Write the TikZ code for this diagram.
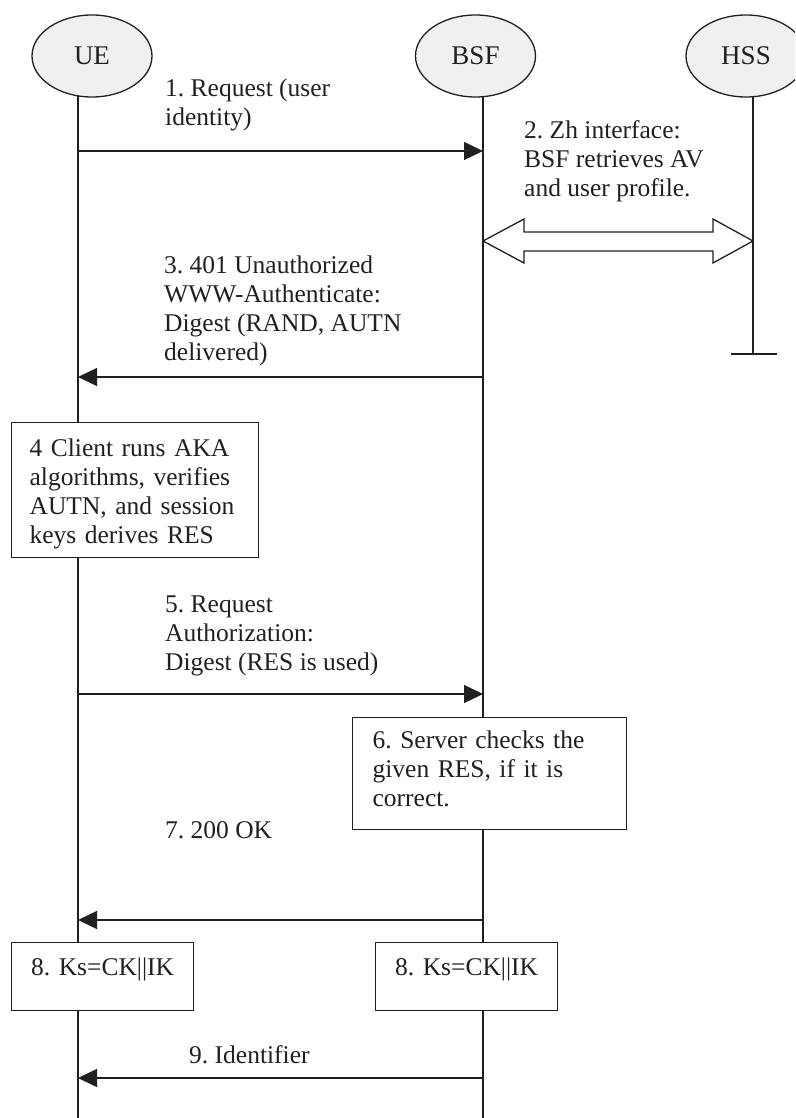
\documentclass[tikz,border=0pt]{standalone}
\usepackage{fontspec}
\setmainfont{Liberation Serif}
\usetikzlibrary{arrows.meta,shapes.geometric,calc}
\definecolor{ink}{RGB}{35,31,32}
\definecolor{actorfill}{RGB}{240,241,239}
\newcommand\myTopRule[1]{\rule{0pt}{#1}}
\newcommand\myBotRule[1]{\rule[-#1]{0pt}{#1}}
\frenchspacing
\begin{document}
\begin{tikzpicture}[x=1pt,y=-1pt,
  every node/.style={font=\fontsize{25.5}{29}\selectfont\frenchspacing, text=ink},
  actor/.style={ellipse, draw=ink, fill=actorfill, line width=1.3pt, minimum width=120pt, minimum height=82pt, inner sep=0pt, font=\fontsize{27}{30}\selectfont},
  life/.style={draw=ink, line width=1.3pt},
  msg/.style={draw=ink, line width=1.4pt, -{Triangle[length=19pt,width=18pt]}},
  lbl/.style={anchor=north west, inner sep=0pt, align=left},
  stepbox/.style={draw=ink, fill=white, line width=1.3pt, anchor=north west, inner ysep=0pt}
]
\useasboundingbox (0,0) rectangle (795,1118);
\clip (0,0) rectangle (795,1118);

% lifeline coordinates
\coordinate (ueTop) at (78,90);
\coordinate (ueBot) at (78,1118);
\coordinate (bsfTop) at (483,90);
\coordinate (bsfBot) at (483,1118);
\coordinate (hssTop) at (753,90);
\coordinate (hssBot) at (753,354);
\coordinate (hssL) at (731,354);
\coordinate (hssR) at (777,354);

\draw[life] (ueTop) -- (ueBot);
\draw[life] (bsfTop) -- (bsfBot);
\draw[life] (hssTop) -- (hssBot);
\draw[life] (hssL) -- (hssR);

% actors
\node[actor] (UE) at (92,56) {UE};
\node[actor] (BSF) at (475.5,56) {BSF};
\node[actor] (HSS) at (746,56) {HSS};

% 1
\coordinate (u1) at (ueTop |- 0,151);
\coordinate (b1) at (bsfTop |- 0,151);
\draw[msg] (u1) -- (b1);
\node[lbl] (L1) at (165,75.7) {\strut 1. Request (user\\identity)};

% 2
\coordinate (zhL) at (bsfTop |- 0,241);
\coordinate (zhR) at (hssTop |- 0,241);
\draw[draw=ink, line width=1.3pt, fill=white, line join=miter]
  (zhL) -- ++(41,-22) -- ++(0,13) -- ($(zhR)+(-40,-9)$) -- ++(0,-13) -- (zhR)
  -- ++(-40,22) -- ++(0,-12) -- ($(zhL)+(41,10)$) -- ++(0,12) -- cycle;
\node[lbl] (L2) at (524,117.7) {\strut 2. Zh interface:\\BSF retrieves AV\\and user profile.};

% 3
\coordinate (u3) at (ueTop |- 0,377);
\coordinate (b3) at (bsfTop |- 0,377);
\draw[msg] (b3) -- (u3);
\node[lbl] (L3) at (164,252.7) {\strut 3. 401 Unauthorized\\WWW-Authenticate:\\Digest (RAND, AUTN\\delivered)};

% 4
\node[stepbox, inner xsep=18pt, text width=211pt, align=left] (S4) at (11,422)
  {\myTopRule{34pt}4 Client runs AKA\\algorithms, verifies\\AUTN, and session\\keys derives RES\myBotRule{14pt}};

% 5
\coordinate (u5) at (ueTop |- 0,694);
\coordinate (b5) at (bsfTop |- 0,694);
\draw[msg] (u5) -- (b5);
\node[lbl] (L5) at (165,591.7) {\strut 5. Request\\Authorization:\\Digest (RES is used)};

% 6
\node[stepbox, inner xsep=20pt, text width=234pt, align=left] (S6) at (352,717)
  {\myTopRule{31pt}6. Server checks the\\given RES, if it is\\correct.\myBotRule{23pt}};

% 7
\node[lbl] (L7) at (165,817.7) {\strut 7. 200 OK};
\coordinate (u7) at (ueTop |- 0,920);
\coordinate (b7) at (bsfTop |- 0,920);
\draw[msg] (b7) -- (u7);

% 8
\node[stepbox, inner xsep=5pt, text width=172pt, align=center] (S8a) at (11,942)
  {\myTopRule{33pt}8. Ks=CK||IK\myBotRule{35pt}};
\node[stepbox, inner xsep=5pt, text width=172pt, align=center] (S8b) at (375,942)
  {\myTopRule{33pt}8. Ks=CK||IK\myBotRule{35pt}};

% 9
\node[lbl] (L9) at (189,1042.7) {\strut 9. Identifier};
\coordinate (u9) at (ueTop |- 0,1078);
\coordinate (b9) at (bsfTop |- 0,1078);
\draw[msg] (b9) -- (u9);
\end{tikzpicture}
\end{document}
